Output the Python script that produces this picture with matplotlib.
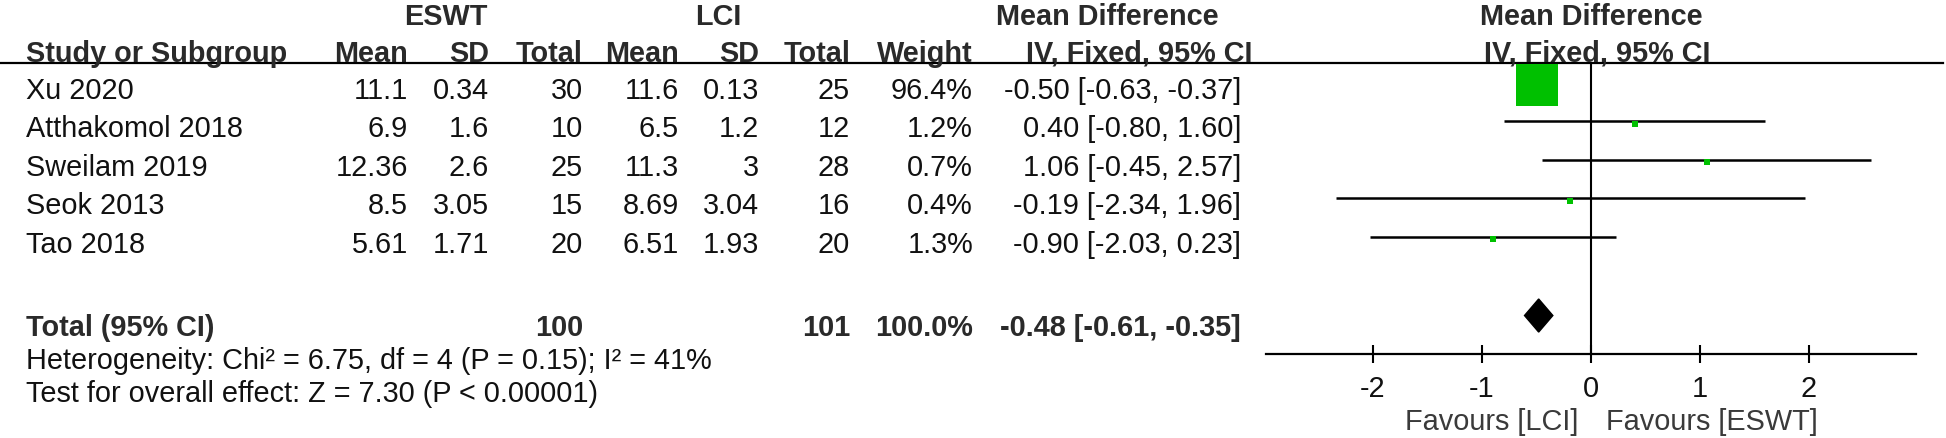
import numpy as np
import matplotlib.pyplot as plt
from matplotlib.patches import Polygon

plt.rcParams['font.family'] = ['Liberation Sans', 'DejaVu Sans']

studies = ['Xu 2020', 'Atthakomol 2018', 'Sweilam 2019', 'Seok 2013', 'Tao 2018']
eswt_mean = ['11.1', '6.9', '12.36', '8.5', '5.61']
eswt_sd = ['0.34', '1.6', '2.6', '3.05', '1.71']
eswt_n = [30, 10, 25, 15, 20]
lci_mean = ['11.6', '6.5', '11.3', '8.69', '6.51']
lci_sd = ['0.13', '1.2', '3', '3.04', '1.93']
lci_n = [25, 12, 28, 16, 20]
weight = [96.4, 1.2, 0.7, 0.4, 1.3]
md = [-0.50, 0.40, 1.06, -0.19, -0.90]
ci_lo = [-0.63, -0.80, -0.45, -2.34, -2.03]
ci_hi = [-0.37, 1.60, 2.57, 1.96, 0.23]
total_n = [100, 101]
total_md, total_lo, total_hi = -0.48, -0.61, -0.35
heterogeneity = 'Heterogeneity: Chi² = 6.75, df = 4 (P = 0.15); I² = 41%'
overall = 'Test for overall effect: Z = 7.30 (P < 0.00001)'
ticks = [-2, -1, 0, 1, 2]

W, H = 1946, 439
fs = 20.8
txt = '#111111'
green = '#00c000'

fig = plt.figure(figsize=(W / 100, H / 100), dpi=100)

# table layer in pixel units
tab = fig.add_axes([0, 0, 1, 1])
tab.set_xlim(0, W)
tab.set_ylim(H, 0)
tab.axis('off')

# forest plot layer: MD units across, row index down
k, x0 = 109, 1591
y_top, y_axis = 64, 355
row0, dy = 83.6, 38.5
xl = (-2.98, 2.98)
left, right = x0 + xl[0] * k, x0 + xl[1] * k
ax = fig.add_axes([left / W, 1 - y_axis / H, (right - left) / W, (y_axis - y_top) / H])
ax.patch.set_alpha(0)
ax.set_xlim(xl)
ax.set_ylim((y_axis - row0) / dy, (y_top - row0) / dy)

n = len(studies)
rows = np.arange(n)
total_row = n + 1.05

# header
tab.axhline(y_top, xmin=0, xmax=1943 / W, color='black', lw=1.6)
hdr = dict(fontsize=fs, fontweight='bold', color='#2a2a2a', va='baseline')
tab.text(446, 25, 'ESWT', ha='center', **hdr)
tab.text(718, 25, 'LCI', ha='center', **hdr)
tab.text(1107, 25, 'Mean Difference', ha='center', **hdr)
tab.text(x0, 25, 'Mean Difference', ha='center', **hdr)
tab.text(26, 62, 'Study or Subgroup', ha='left', **hdr)
cols = [408, 489, 583, 679, 759, 850, 973]
for x, lab in zip(cols, ['Mean', 'SD', 'Total', 'Mean', 'SD', 'Total', 'Weight']):
    tab.text(x, 62, lab, ha='right', **hdr)
tab.text(1139, 62, 'IV, Fixed, 95% CI', ha='center', **hdr)
tab.text(x0 + 6, 62, 'IV, Fixed, 95% CI', ha='center', **hdr)

# study rows
for i in range(n):
    yb = row0 + dy * i + 15.4
    vals = [eswt_mean[i], eswt_sd[i], str(eswt_n[i]), lci_mean[i], lci_sd[i],
            str(lci_n[i]), f'{weight[i]:.1f}%']
    tab.text(26, yb, studies[i], ha='left', va='baseline', fontsize=fs, color=txt)
    for x, v in zip(cols, vals):
        tab.text(x, yb, v, ha='right', va='baseline', fontsize=fs, color=txt)
    tab.text(1241, yb, f'{md[i]:.2f} [{ci_lo[i]:.2f}, {ci_hi[i]:.2f}]',
             ha='right', va='baseline', fontsize=fs, color=txt)

# total row
yb = 336.5
tab.text(26, yb, 'Total (95% CI)', ha='left', **hdr)
tab.text(cols[2], yb, str(total_n[0]), ha='right', **hdr)
tab.text(cols[5], yb, str(total_n[1]), ha='right', **hdr)
tab.text(cols[6], yb, f'{sum(weight):.1f}%', ha='right', **hdr)
tab.text(1241, yb, f'{total_md:.2f} [{total_lo:.2f}, {total_hi:.2f}]', ha='right', **hdr)
tab.text(26, 369.5, heterogeneity, ha='left', va='baseline', fontsize=fs, color=txt)
tab.text(26, 402.5, overall, ha='left', va='baseline', fontsize=fs, color=txt)

# forest marks
ax.axvline(0, color='black', lw=1.5, zorder=1)
ax.hlines(rows, ci_lo, ci_hi, color='black', lw=1.8, zorder=2)
side = np.maximum(42 * np.sqrt(np.array(weight) / max(weight)), 5.5) * 0.72
for i in range(n):
    ax.plot(md[i], rows[i] + 0.07, marker='s', ms=side[i], color=green,
            mec=green, mew=0, ls='none', zorder=3, clip_on=False)
half = 0.43
ax.add_patch(Polygon([[total_lo, total_row], [total_md, total_row - half],
                      [total_hi, total_row], [total_md, total_row + half]],
                     closed=True, color='black', zorder=3))

for s in ['top', 'right', 'left']:
    ax.spines[s].set_visible(False)
ax.spines['bottom'].set_linewidth(1.6)
ax.set_yticks([])
ax.set_xticks(ticks)
ax.set_xticklabels([str(t) for t in ticks])
ax.tick_params(axis='x', direction='inout', length=13.4, width=1.5, pad=7.5,
               labelsize=fs, labelcolor=txt)

tab.text(x0 - 13, 430.4, 'Favours [LCI]', ha='right', va='baseline', fontsize=fs, color='#3a3a3a')
tab.text(x0 + 15, 430.4, 'Favours [ESWT]', ha='left', va='baseline', fontsize=fs, color='#3a3a3a')

fig.savefig('out.png', dpi=100)
